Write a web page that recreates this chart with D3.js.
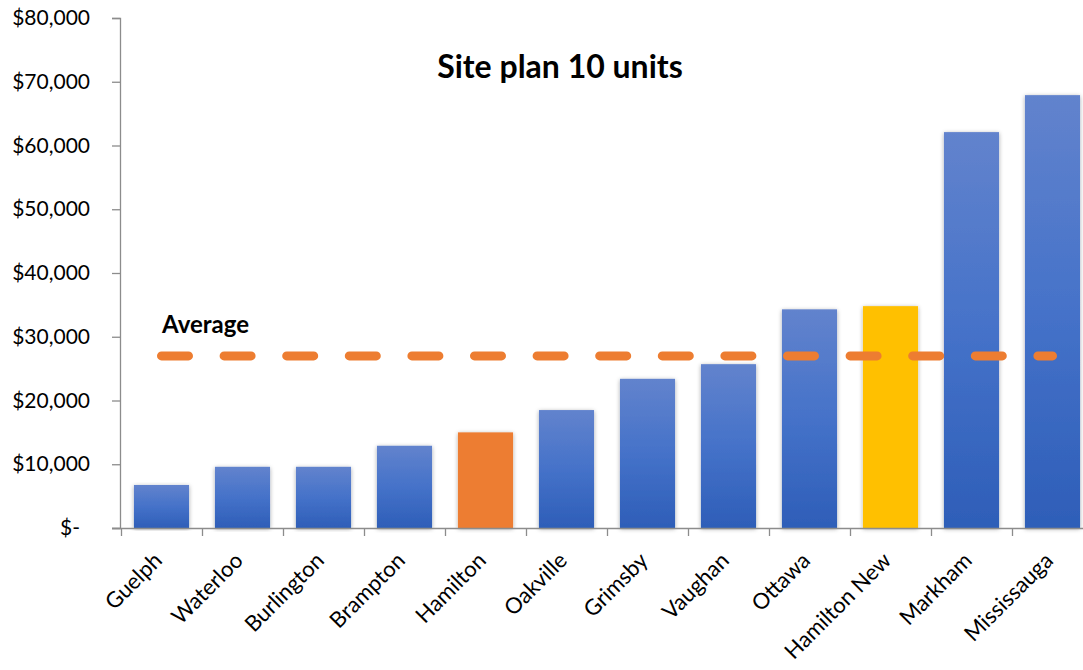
<!DOCTYPE html>
<html><head><meta charset="utf-8">
<script src="https://cdn.jsdelivr.net/npm/d3@7"></script>
<style>
html,body{margin:0;padding:0;background:#fff;overflow:hidden}
svg{display:block}
text{font-family:Lato,"Open Sans",sans-serif;fill:#000}
</style></head><body>
<svg id="chart" width="1083" height="670"></svg>
<script>
const categories = ["Guelph","Waterloo","Burlington","Brampton","Hamilton","Oakville","Grimsby","Vaughan","Ottawa","Hamilton New","Markham","Mississauga"];
const values = [6750,9600,9600,12900,15000,18500,23400,25700,34300,34800,62100,67900];
const averageValues = [27000,27000,27000,27000,27000,27000,27000,27000,27000,27000,27000,27000];
const yTickValues = [0,10000,20000,30000,40000,50000,60000,70000,80000];
const yTickLabels = ["$-","$10,000","$20,000","$30,000","$40,000","$50,000","$60,000","$70,000","$80,000"];
const title = "Site plan 10 units";
const averageLabel = "Average";

const svg = d3.select("#chart");
const x = d3.scaleBand().domain(categories).range([121,1093]).paddingInner(0.32).paddingOuter(0.16);
const y = d3.scaleLinear().domain([0,80000]).range([528,18]);
const step = x.step();

const defs = svg.append("defs");
const grad = defs.append("linearGradient").attr("id","blueGrad").attr("x1",0).attr("y1",0).attr("x2",0).attr("y2",1);
grad.append("stop").attr("offset","0%").attr("stop-color","#6283CD");
grad.append("stop").attr("offset","50%").attr("stop-color","#4572C9");
grad.append("stop").attr("offset","100%").attr("stop-color","#2E5EB8");
const filt = defs.append("filter").attr("id","shadow").attr("x","-20%").attr("y","-5%").attr("width","140%").attr("height","110%");
filt.append("feDropShadow").attr("dx",0).attr("dy",1).attr("stdDeviation",2).attr("flood-color","#000").attr("flood-opacity",0.35);

function barFill(d){ if(d==="Hamilton") return "#ED7D31"; if(d==="Hamilton New") return "#FFC000"; return "url(#blueGrad)"; }

// bars
svg.append("g").selectAll("rect").data(categories).join("rect")
  .attr("x", d=>x(d)).attr("width", x.bandwidth())
  .attr("y", (d,i)=>y(values[i])).attr("height",(d,i)=>y(0)-y(values[i]))
  .attr("fill", barFill).attr("filter","url(#shadow)");

// y axis
const yAxis = svg.append("g").attr("transform","translate(120,0)")
  .call(d3.axisLeft(y).tickValues(yTickValues).tickSize(8).tickPadding(22).tickFormat((d,i)=>yTickLabels[i]));
yAxis.select(".domain").attr("stroke","#8c8c8c").attr("stroke-width",1.3).attr("d","M-8,18.5H0.5V528.5H-8");
yAxis.selectAll(".tick line").attr("stroke","#8c8c8c").attr("stroke-width",1.3);
yAxis.selectAll(".tick text").attr("font-size",21).attr("font-family","Lato,sans-serif").attr("fill","#000")
  .attr("dx",(d)=> d===0 ? -10 : 0);

// x axis
const xg = svg.append("g");
xg.append("line").attr("x1",112).attr("x2",1083).attr("y1",528.5).attr("y2",528.5).attr("stroke","#8c8c8c").attr("stroke-width",1.3);
const boundaries = categories.map(d=>x(d)-step*x.paddingInner()/2).concat([x(categories[categories.length-1])+x.bandwidth()+step*x.paddingInner()/2]);
xg.selectAll("line.t").data(boundaries).join("line").attr("class","t")
  .attr("x1",d=>Math.round(d)+0.5).attr("x2",d=>Math.round(d)+0.5).attr("y1",528).attr("y2",536)
  .attr("stroke","#8c8c8c").attr("stroke-width",1.3);
xg.selectAll("text").data(categories).join("text")
  .attr("transform",d=>`translate(${x(d)+x.bandwidth()/2-9},${551}) rotate(-45)`)
  .attr("text-anchor","end").attr("dy","0.7em").attr("font-size",22).text(d=>d);

// average line
const line = d3.line().x(d=>x(d)+x.bandwidth()/2).y((d,i)=>y(averageValues[i]));
svg.append("path").datum(categories).attr("d",line).attr("fill","none")
  .attr("stroke","#ED7D31").attr("stroke-width",9).attr("stroke-linecap","round")
  .attr("stroke-dasharray","27,35.6");

svg.append("text").attr("x",162).attr("y",y(averageValues[0])-23).attr("font-size",24).attr("font-weight","bold").text(averageLabel);

svg.append("text").attr("x",560).attr("y",78).attr("text-anchor","middle").attr("font-size",32).attr("font-weight","bold").text(title);
</script>
</body></html>
